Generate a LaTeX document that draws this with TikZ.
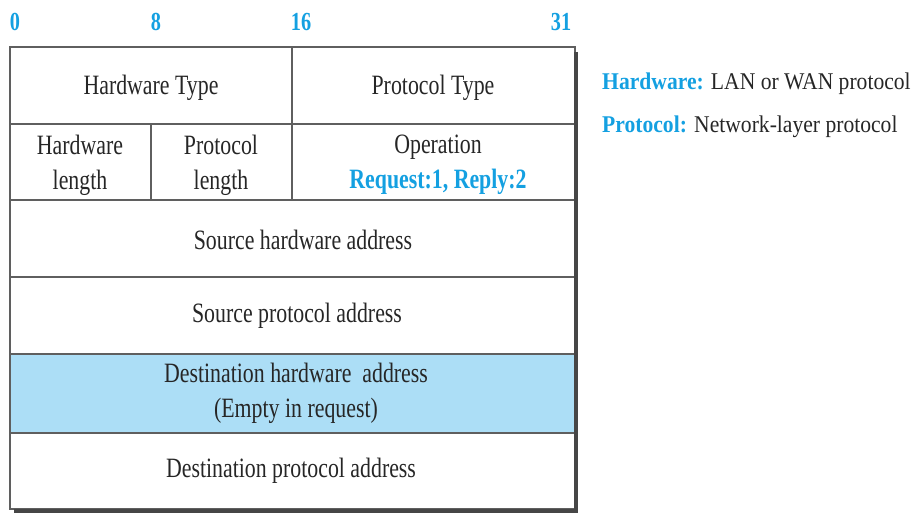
\documentclass[tikz,border=0pt]{standalone}
\usepackage{fontspec}
\setmainfont{Liberation Serif}[FakeStretch=0.78]
\newfontfamily\notefont{Liberation Serif}[FakeStretch=0.9]
\definecolor{bitblue}{RGB}{20,160,225}
\definecolor{rowfill}{RGB}{172,222,246}
\definecolor{gridline}{RGB}{95,95,95}
\definecolor{shadowline}{RGB}{70,70,70}
\tikzset{
  field/.style={font=\fontsize{28}{35}\selectfont, text=black!85, align=center, inner sep=0pt},
  bitnum/.style={font=\fontsize{26}{30}\selectfont\bfseries, text=bitblue, inner sep=0pt},
  note/.style={font=\notefont\fontsize{24}{30}\selectfont, text=black!85, anchor=west, inner sep=0pt},
  grid/.style={draw=gridline, line width=1.4pt},
}
\begin{document}
\begin{tikzpicture}[x=1pt,y=-1pt]
  \useasboundingbox (0,0) rectangle (915,513);
  % highlighted row
  \fill[rowfill] (10,354) rectangle (575,433);
  % outer frame and row/column rules
  \draw[grid] (10,47) rectangle (575,509);
  \foreach \yy in {124,200,277,354,433} \draw[grid] (10,\yy) -- (575,\yy);
  \draw[grid] (292,47) -- (292,200);
  \draw[grid] (151,124) -- (151,200);
  % drop shadow on right and bottom edges
  \draw[shadowline, line width=3.2pt] (576,52) -- (576,511) -- (14,511);

  % bit positions
  \node[bitnum] (b0) at (15,22) {0};
  \node[bitnum] (b8) at (156,22) {8};
  \node[bitnum] (b16) at (301,22) {16};
  \node[bitnum] (b31) at (561,22) {31};

  % fields
  \node[field] (htype) at (151,88) {Hardware Type};
  \node[field] (ptype) at (433,88) {Protocol Type};
  \node[field] (hlen) at (80,165) {Hardware\\length};
  \node[field] (plen) at (221,165) {Protocol\\length};
  \node[field] (oper) at (438,165) {Operation\\{\color{bitblue}\bfseries Request:1, Reply:2}};
  \node[field] (sha) at (303,240) {Source hardware address};
  \node[field] (spa) at (297,316) {Source protocol address};
  \node[field] (tha) at (296,393) {Destination hardware\ \ address\\(Empty in request)};
  \node[field] (tpa) at (291,471) {Destination protocol address};

  % legend
  \node[note] (nh) at (602,84) {{\color{bitblue}\bfseries Hardware:} LAN or WAN protocol};
  \node[note] (np) at (602,127) {{\color{bitblue}\bfseries Protocol:} Network-layer protocol};
\end{tikzpicture}
\end{document}
